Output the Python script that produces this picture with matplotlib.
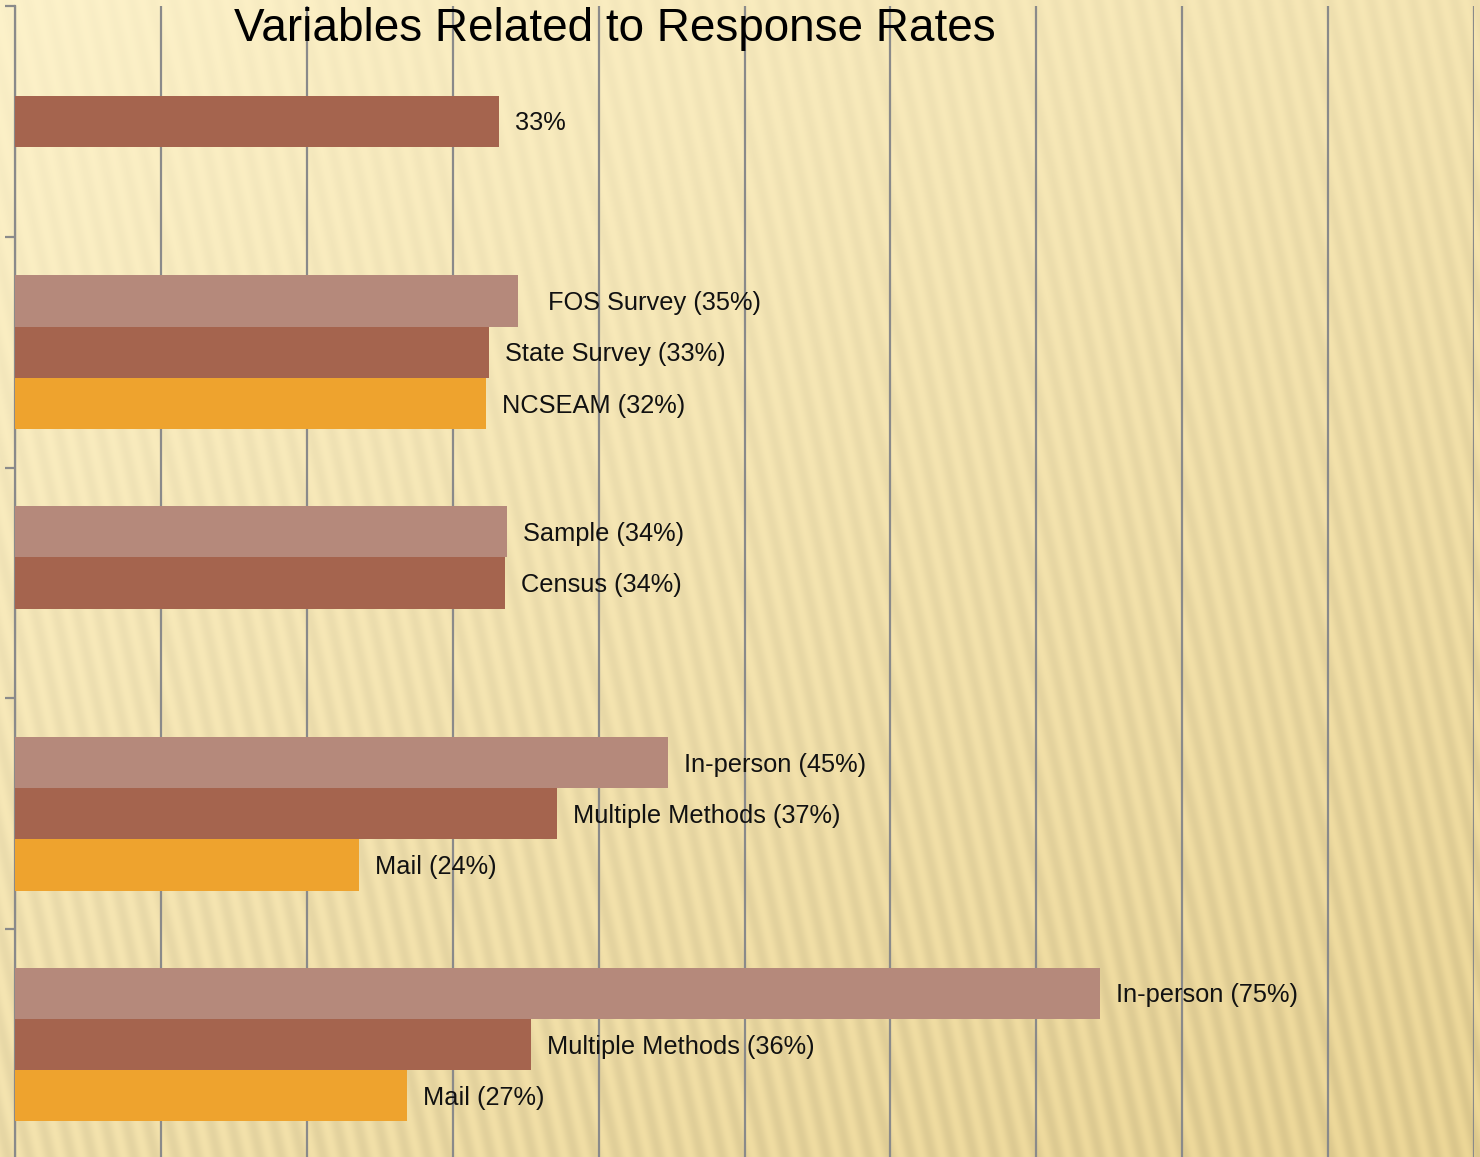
import numpy as np
import matplotlib.pyplot as plt

# bar values (bottom group first)
positions = [0, 1, 2, 3, 4]
light_vals = [74.4, 44.75, 33.7, 34.5, np.nan]
dark_vals = [35.4, 37.15, 33.6, 32.5, 33.2]
orange_vals = [26.9, 23.6, np.nan, 32.3, np.nan]

light_labels = ["In-person (75%)", "In-person (45%)", "Sample (34%)", "  FOS Survey (35%)", ""]
dark_labels = ["Multiple Methods (36%)", "Multiple Methods (37%)", "Census (34%)",
               "State Survey (33%)", "33%"]
orange_labels = ["Mail (27%)", "Mail (24%)", "", "NCSEAM (32%)", ""]

c_light = "#B5897B"
c_dark = "#A5644E"
c_orange = "#EEA32E"

W, H = 1480, 1157
fig = plt.figure(figsize=(W / 100, H / 100), dpi=100)

# background texture: warm gradient with faint diagonal stripes
bg = fig.add_axes([0, 0, 1, 1], zorder=-10)
yy, xx = np.mgrid[0:H, 0:W].astype(float)
t = np.clip(0.45 * xx / W + 0.55 * yy / H, 0, 1)[..., None]
top = np.array([253, 242, 202]) / 255
bot = np.array([236, 214, 150]) / 255
img = top * (1 - t) + bot * t
amp = 0.012 + 0.06 * np.clip(0.35 * xx / W + 0.75 * yy / H, 0, 1)
stripes = 0.5 + 0.5 * np.sin(2 * np.pi * (xx - 0.22 * yy) / 21)
img = img * (1 - (amp * stripes)[..., None])
bg.imshow(np.clip(img, 0, 1), aspect="auto", extent=[0, 1, 0, 1])
bg.axis("off")

ax = fig.add_axes([15 / W, -3 / H, 1459 / W, (H - 3) / H])
ax.patch.set_alpha(0)

h = 0.222
ax.barh(np.array(positions) + h, light_vals, height=h, color=c_light, zorder=3)
ax.barh(np.array(positions), dark_vals, height=h, color=c_dark, zorder=3)
ax.barh(np.array(positions) - h, orange_vals, height=h, color=c_orange, zorder=3)

for off, vals, labs in [(h, light_vals, light_labels), (0, dark_vals, dark_labels),
                        (-h, orange_vals, orange_labels)]:
    for p, v, lab in zip(positions, vals, labs):
        if np.isnan(v) or not lab:
            continue
        ax.annotate(lab, (v, p + off), xytext=(11.5, -1.5), textcoords="offset points",
                    va="center", ha="left", fontsize=18.3, family="Liberation Sans",
                    color="#111111", zorder=5)

ax.set_xlim(0, 100)
ax.set_ylim(-0.5, 4.5)
ax.set_xticks(np.arange(0, 101, 10))
ax.set_xticklabels([])
ax.tick_params(axis="x", length=0)
ax.grid(axis="x", color="#8a8a8a", linewidth=1.6, zorder=1)
ax.set_axisbelow(True)

ax.set_yticks(np.arange(-0.5, 4.6, 1))
ax.set_yticklabels([])
ax.tick_params(axis="y", length=7, width=1.6, color="#8a8a8a")
for s in ["top", "right", "bottom"]:
    ax.spines[s].set_visible(False)
ax.spines["left"].set_color("#8a8a8a")
ax.spines["left"].set_linewidth(1.6)

fig.text(615 / W, 1 - 29 / H, "Variables Related to Response Rates", ha="center",
         va="center", fontsize=33, family="Liberation Sans", color="black")

fig.savefig("out.png", dpi=100)
